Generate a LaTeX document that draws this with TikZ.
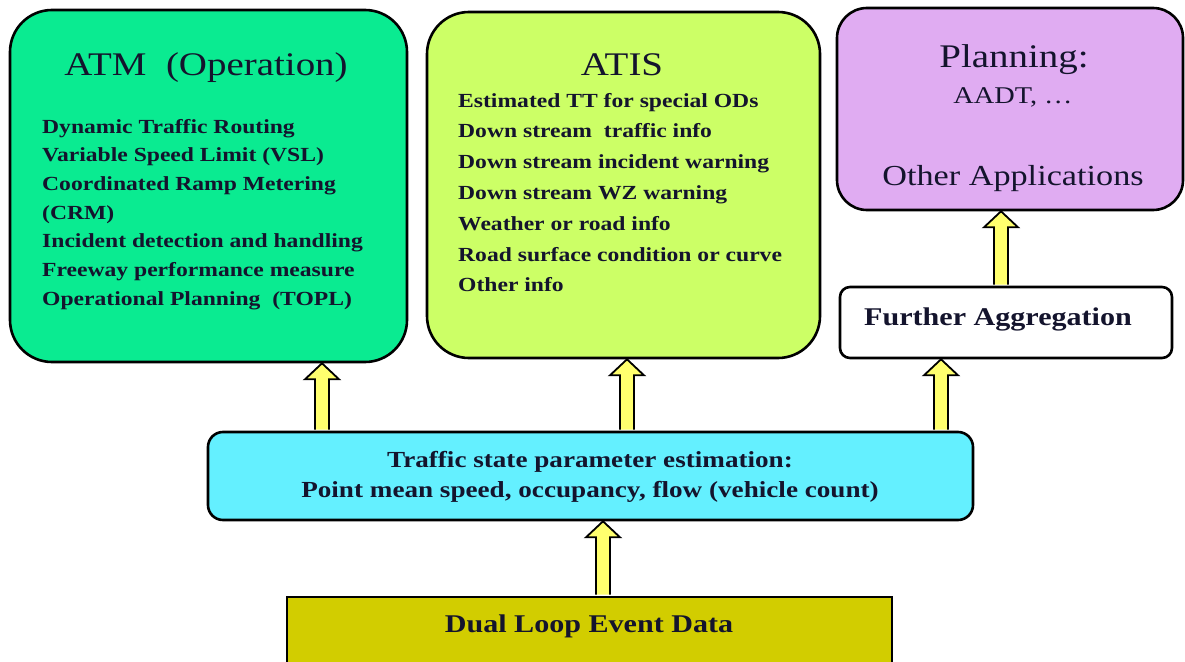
\documentclass[tikz,border=0pt]{standalone}
\usepackage{fontspec}
\setmainfont{Liberation Serif}
\usetikzlibrary{calc,positioning}
\definecolor{atmgreen}{RGB}{10,235,145}
\definecolor{atisgreen}{RGB}{204,255,102}
\definecolor{planviolet}{RGB}{224,172,242}
\definecolor{statecyan}{RGB}{100,240,255}
\definecolor{loopolive}{RGB}{210,205,0}
\definecolor{arrowyellow}{RGB}{255,255,110}
\definecolor{ink}{RGB}{20,20,45}
% the text in the source is set a little wider than Times
\newcommand{\wide}[1]{\scalebox{1.18}[1]{#1}}
% fat up arrow from a lower box (#1) to an upper box (#2)
\newcommand{\liftarrow}[2]{%
  \draw[block arrow] let \p1=(#1), \p2=(#2) in
    (\x1-7pt,\y1+1pt) -- (\x1-7pt,\y2-16pt) -- (\x1-17pt,\y2-16pt) -- (\x1,\y2) --
    (\x1+17pt,\y2-16pt) -- (\x1+7pt,\y2-16pt) -- (\x1+7pt,\y1+1pt);}
\begin{document}
\begin{tikzpicture}[x=1pt,y=-1pt]
        % Styles
        \tikzstyle{appbox}=[draw=black,line width=2.6pt,inner sep=0pt]
        \tikzstyle{title}=[font=\fontsize{33}{40}\selectfont,text=ink,inner sep=0pt]
        \tikzstyle{listtext}=[font=\fontsize{20}{28.7}\selectfont\bfseries,text=ink,inner sep=0pt]
        \tikzstyle{boldtext}=[font=\fontsize{25.5}{30}\selectfont\bfseries,text=ink,inner sep=0pt]
        \tikzstyle{block arrow}=[fill=arrowyellow,draw=black,line width=1.8pt,line join=miter]
        \useasboundingbox (0,0) rectangle (1185,661);
        %boxes
        \node[appbox,fill=atmgreen,rounded corners=42pt,minimum width=397pt,minimum height=352pt] (atm) at (208.5,186) {};
        \node[appbox,fill=atisgreen,rounded corners=42pt,minimum width=393pt,minimum height=346pt] (atis) at (623.5,185) {};
        \node[appbox,fill=planviolet,rounded corners=30pt,minimum width=346pt,minimum height=202pt] (plan) at (1010,109) {};
        \node[appbox,fill=white,rounded corners=10pt,minimum width=332pt,minimum height=71pt] (agg) at (1006,322.5) {};
        \node[appbox,fill=statecyan,rounded corners=15pt,minimum width=765pt,minimum height=88pt] (state) at (590.5,476) {};
        \node[appbox,fill=loopolive,minimum width=605pt,minimum height=72pt] (loop) at (589.5,633) {};
        %texts
        \node[title,anchor=base] (atmtitle) at (206,75) {\wide{ATM~~(Operation)}};
        \node[listtext,anchor=base west] (atmlist) at (42,133) {\wide{\begin{tabular}[t]{@{}l@{}}
            Dynamic Traffic Routing\\ Variable Speed Limit (VSL)\\ Coordinated Ramp Metering\\ (CRM)\\
            Incident detection and  handling\\ Freeway performance measure\\ Operational Planning~ (TOPL)\end{tabular}}};
        \node[title,anchor=base] (atistitle) at (622,75) {\wide{ATIS}};
        \node[listtext,font=\fontsize{20}{30.8}\selectfont\bfseries,anchor=base west] (atislist) at (458,107) {\wide{\begin{tabular}[t]{@{}l@{}}
            Estimated TT for special ODs\\ Down stream~ traffic info\\ Down stream incident warning\\ Down stream WZ warning\\
            Weather or road info\\ Road surface condition or curve\\ Other info\end{tabular}}};
        \node[title,anchor=base] (plantitle) at (1014,67) {\wide{Planning:}};
        \node[title,font=\fontsize{24}{28}\selectfont,anchor=base] (aadt) at (1013,103) {\wide{AADT, …}};
        \node[title,font=\fontsize{29}{34}\selectfont,anchor=base] (otherapp) at (1013,185) {\wide{Other Applications}};
        \node[boldtext,anchor=base] (aggtext) at (998,325) {\wide{Further Aggregation}};
        \node[boldtext,font=\fontsize{23}{30}\selectfont\bfseries,anchor=base] (statetext) at (590,467) {\wide{\begin{tabular}[t]{@{}c@{}}
            Traffic state parameter estimation:\\ Point mean speed, occupancy, flow (vehicle count)\end{tabular}}};
        \node[boldtext,anchor=base] (looptext) at (589,632) {\wide{Dual Loop Event Data}};
        %arrows
        \coordinate (atmx) at (322,0);
        \coordinate (atisx) at (627,0);
        \coordinate (aggx) at (941,0);
        \coordinate (planx) at (1001,0);
        \coordinate (loopx) at (603,0);
        \liftarrow{state.north -| atmx}{atm.south -| atmx}
        \liftarrow{state.north -| atisx}{atis.south -| atisx}
        \liftarrow{state.north -| aggx}{agg.south -| aggx}
        \liftarrow{agg.north -| planx}{plan.south -| planx}
        \liftarrow{loop.north -| loopx}{state.south -| loopx}
    \end{tikzpicture}
\end{document}
